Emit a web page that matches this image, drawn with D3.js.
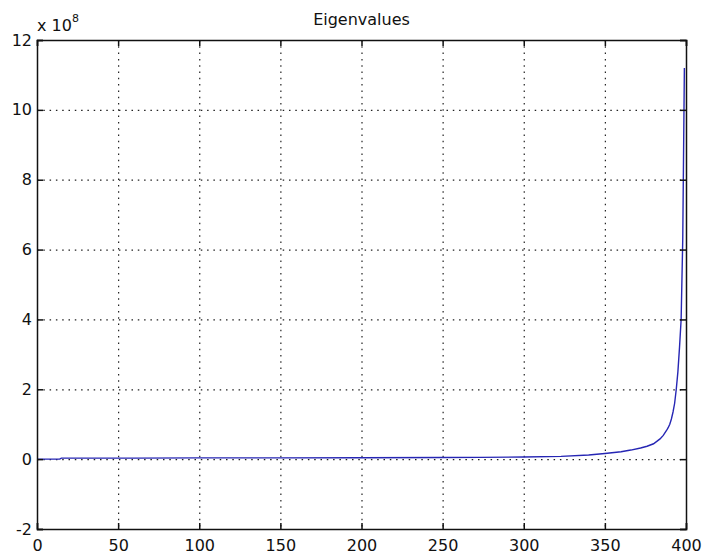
<!DOCTYPE html>
<html>
<head>
<meta charset="utf-8">
<script src="https://cdn.jsdelivr.net/npm/d3@7"></script>
<style>
 body{margin:0;background:#fff}
 text{font-family:"DejaVu Sans",sans-serif;fill:#111}
</style>
</head>
<body>
<svg id="chart" width="703" height="557"></svg>
<script>
// eigenvalue index / value (x 1e8)
var eigIndex = [0, 14, 15, 60, 100, 150, 200, 250, 273, 300, 323, 340, 350, 360, 366, 372, 376, 380, 384, 386, 388, 389, 390, 391, 392, 393, 394, 395, 396, 397, 398, 399]
var eigValue = [0, 0, 0.03, 0.03, 0.035, 0.037, 0.04, 0.045, 0.05, 0.06, 0.08, 0.12, 0.16, 0.21, 0.26, 0.32, 0.37, 0.44, 0.58, 0.68, 0.82, 0.9, 1.0, 1.15, 1.35, 1.6, 2.0, 2.5, 3.2, 4.0, 6.3, 11.2]
var xTicks = [0, 50, 100, 150, 200, 250, 300, 350, 400]
var yTicks = [-2, 0, 2, 4, 6, 8, 10, 12]
var title = "Eigenvalues"

var axLeft = 37, axTop = 40, axRight = 686, axBottom = 529
var width = axRight - axLeft, height = axBottom - axTop
var tickLen = 6

var svg = d3.select("#chart")

var xScale = d3.scaleLinear().domain([0, 400]).range([0, width])
var yScale = d3.scaleLinear().domain([-2, 12]).range([height, 0])

var plot = svg.append("g").attr("transform", "translate(" + axLeft + "," + axTop + ")")

// dotted grid
plot.append("g").selectAll("line")
  .data(xTicks.slice(1, -1)).enter().append("line")
  .attr("x1", function(d){ return xScale(d) + .5 })
  .attr("x2", function(d){ return xScale(d) + .5 })
  .attr("y1", 0).attr("y2", height)
  .attr("stroke", "#222").attr("stroke-width", 1.2)
  .attr("stroke-dasharray", "1.5,4.8")

plot.append("g").selectAll("line")
  .data(yTicks.slice(1, -1)).enter().append("line")
  .attr("y1", function(d){ return yScale(d) + .5 })
  .attr("y2", function(d){ return yScale(d) + .5 })
  .attr("x1", 0).attr("x2", width)
  .attr("stroke", "#222").attr("stroke-width", 1.2)
  .attr("stroke-dasharray", "1.5,4.8")

// data line
var line = d3.line()
  .x(function(d, i){ return xScale(eigIndex[i]) })
  .y(function(d){ return yScale(d) })

plot.append("path")
  .datum(eigValue)
  .attr("d", line)
  .attr("fill", "none")
  .attr("stroke", "#2626b4")
  .attr("stroke-width", 1.4)

// axes (ticks pointing inward, mirrored on all sides)
var fmt = function(d){ return String(d) }   // plain hyphen minus like the original
plot.append("g").attr("transform", "translate(0," + height + ")")
  .call(d3.axisBottom(xScale).tickValues(xTicks).tickSize(-tickLen).tickPadding(11).tickFormat(fmt))
plot.append("g")
  .call(d3.axisTop(xScale).tickValues(xTicks).tickSize(-tickLen).tickFormat(""))
plot.append("g")
  .call(d3.axisLeft(yScale).tickValues(yTicks).tickSize(-tickLen).tickPadding(5).tickFormat(fmt))
plot.append("g").attr("transform", "translate(" + width + ",0)")
  .call(d3.axisRight(yScale).tickValues(yTicks).tickSize(-tickLen).tickFormat(""))

plot.selectAll(".domain").attr("stroke", "#111").attr("stroke-width", 1.5)
plot.selectAll(".tick line").attr("stroke", "#111").attr("stroke-width", 1.5)
plot.selectAll(".tick text")
  .attr("font-family", "DejaVu Sans, sans-serif")
  .attr("font-size", "16px")
  .attr("fill", "#111")

// title
svg.append("text")
  .attr("x", axLeft + width / 2)
  .attr("y", 25)
  .attr("text-anchor", "middle")
  .attr("font-size", "16px")
  .text(title)

// exponent label
var expo = svg.append("text").attr("x", axLeft).attr("y", 31).attr("font-size", "16px")
expo.append("tspan").text("x 10")
expo.append("tspan").attr("font-size", "11px").attr("dy", -9).text("8")
</script>
</body>
</html>
